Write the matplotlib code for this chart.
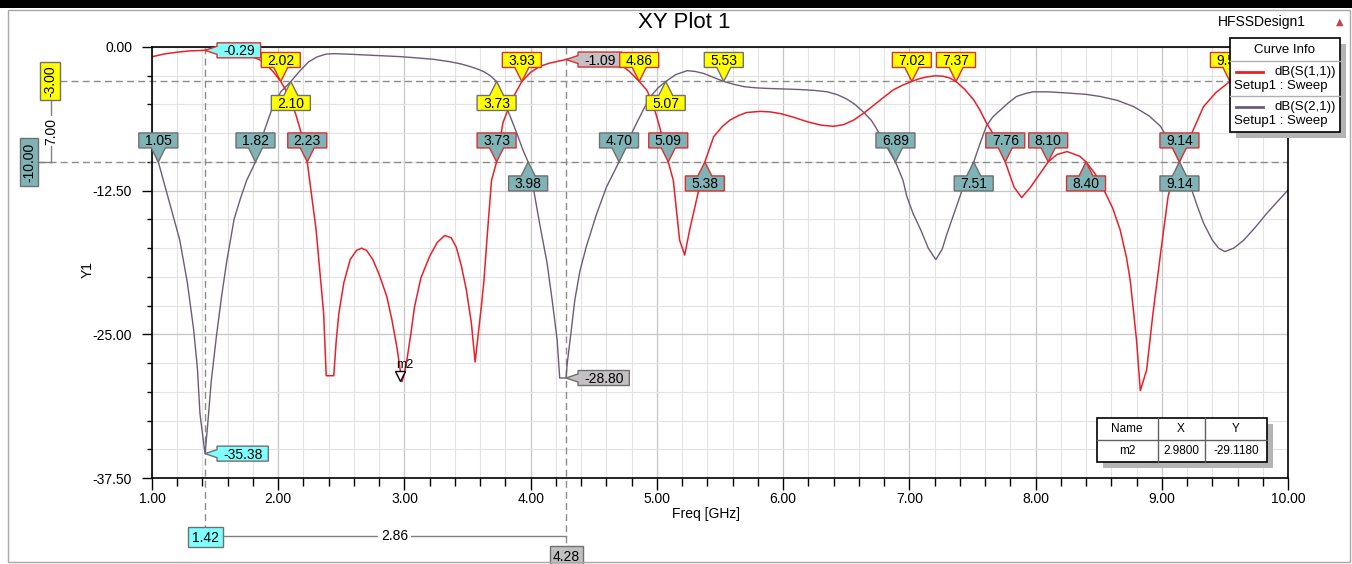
import numpy as np
import matplotlib
matplotlib.use('Agg')
import matplotlib.pyplot as plt
from matplotlib.patches import Polygon, Rectangle
from matplotlib.lines import Line2D
from matplotlib.transforms import IdentityTransform, offset_copy
from matplotlib.ticker import MultipleLocator, FormatStrFormatter

plt.rcParams['font.family'] = ['Liberation Sans', 'DejaVu Sans']

# ---- values ----
s11_freq = [1.00, 1.10, 1.20, 1.30, 1.42, 1.55, 1.64, 1.72, 1.80, 1.86, 1.91, 1.96, 2.02, 2.06, 2.10,
            2.14, 2.18, 2.23, 2.26, 2.30, 2.33, 2.36, 2.38, 2.44, 2.46, 2.48, 2.52, 2.57, 2.62, 2.66,
            2.70, 2.75, 2.80, 2.86, 2.90, 2.94, 2.98, 3.00, 3.02, 3.05, 3.08, 3.13, 3.20, 3.26, 3.32,
            3.37, 3.41, 3.45, 3.49, 3.53, 3.56, 3.59, 3.61, 3.63, 3.66, 3.69, 3.73, 3.78, 3.85, 3.93,
            4.00, 4.07, 4.15, 4.28, 4.40, 4.55, 4.65, 4.72, 4.78, 4.86, 4.92, 4.96, 5.00, 5.04, 5.09,
            5.13, 5.18, 5.22, 5.26, 5.32, 5.38, 5.45, 5.52, 5.58, 5.65, 5.71, 5.82, 5.90, 5.98, 6.08,
            6.19, 6.30, 6.40, 6.48, 6.56, 6.64, 6.72, 6.80, 6.87, 6.95, 7.02, 7.08, 7.14, 7.21, 7.27,
            7.32, 7.37, 7.44, 7.51, 7.56, 7.61, 7.65, 7.69, 7.76, 7.83, 7.89, 7.96, 8.03, 8.10, 8.17,
            8.25, 8.35, 8.40, 8.47, 8.54, 8.61, 8.67, 8.72, 8.75, 8.80, 8.83, 8.88, 8.93, 8.99, 9.05,
            9.09, 9.14, 9.20, 9.25, 9.33, 9.43, 9.54, 9.63, 9.75, 9.88, 10.00]
s11_db = [-0.85, -0.60, -0.45, -0.34, -0.29, -0.36, -0.50, -0.64, -0.86, -1.15, -1.57, -2.15, -3.00, -3.75, -4.70,
          -5.90, -7.40, -10.00, -12.50, -15.90, -19.50, -23.20, -28.60, -28.60, -25.50, -23.20, -20.50, -18.50, -17.70, -17.50,
          -17.70, -18.50, -19.80, -21.70, -23.70, -26.10, -29.12, -28.40, -27.20, -25.00, -22.60, -20.10, -18.20, -17.00, -16.40,
          -16.60, -17.40, -19.00, -21.10, -24.00, -27.40, -24.50, -22.50, -20.30, -15.80, -11.60, -10.00, -6.60, -4.60, -3.00,
          -2.20, -1.70, -1.40, -1.09, -0.95, -0.95, -1.20, -1.60, -2.10, -3.00, -3.75, -4.70, -6.10, -7.70, -10.00,
          -11.60, -16.80, -18.10, -15.90, -13.00, -10.00, -7.80, -6.90, -6.35, -5.95, -5.70, -5.60, -5.65, -5.80, -6.10,
          -6.50, -6.80, -6.90, -6.75, -6.35, -5.75, -5.05, -4.35, -3.75, -3.30, -3.00, -2.75, -2.60, -2.50, -2.55,
          -2.70, -3.00, -3.70, -4.60, -5.50, -6.60, -7.30, -8.10, -10.00, -12.20, -13.10, -12.20, -11.10, -10.00, -9.35,
          -9.10, -9.50, -10.00, -11.00, -12.40, -14.00, -15.90, -18.30, -20.30, -25.50, -29.90, -28.10, -23.20, -18.00, -13.00,
          -11.30, -10.00, -8.40, -7.20, -5.20, -3.95, -3.00, -2.40, -1.90, -1.60, -1.40]

s21_freq = [1.00, 1.05, 1.09, 1.15, 1.22, 1.28, 1.33, 1.36, 1.38, 1.42, 1.44, 1.47, 1.51, 1.55, 1.59,
            1.65, 1.70, 1.75, 1.82, 1.88, 1.95, 2.02, 2.10, 2.17, 2.24, 2.31, 2.38, 2.44, 2.55, 2.70,
            2.85, 2.97, 3.10, 3.23, 3.36, 3.45, 3.52, 3.58, 3.63, 3.68, 3.73, 3.78, 3.84, 3.89, 3.94,
            3.98, 4.02, 4.07, 4.13, 4.17, 4.21, 4.23, 4.28, 4.29, 4.32, 4.35, 4.39, 4.44, 4.52, 4.60,
            4.70, 4.77, 4.84, 4.90, 4.95, 5.01, 5.07, 5.15, 5.24, 5.30, 5.37, 5.45, 5.53, 5.61, 5.69,
            5.78, 5.87, 6.00, 6.13, 6.25, 6.35, 6.43, 6.50, 6.57, 6.64, 6.70, 6.74, 6.80, 6.89, 6.95,
            6.98, 7.03, 7.09, 7.15, 7.21, 7.26, 7.30, 7.36, 7.42, 7.51, 7.56, 7.61, 7.66, 7.72, 7.78,
            7.85, 7.92, 7.98, 8.10, 8.25, 8.40, 8.51, 8.65, 8.78, 8.90, 8.99, 9.07, 9.14, 9.23, 9.28,
            9.33, 9.40, 9.45, 9.50, 9.57, 9.65, 9.74, 9.83, 9.92, 10.00]
s21_db = [-8.80, -10.00, -11.60, -14.00, -16.80, -20.50, -24.60, -28.00, -31.90, -35.38, -33.00, -29.00, -25.20, -21.80, -18.80,
          -15.00, -13.20, -11.60, -10.00, -7.60, -5.40, -3.90, -3.00, -2.10, -1.30, -0.85, -0.62, -0.58, -0.62, -0.70,
          -0.78, -0.84, -0.95, -1.07, -1.28, -1.48, -1.70, -1.92, -2.15, -2.50, -3.00, -4.50, -6.10, -7.50, -9.00,
          -10.00, -12.20, -15.30, -18.80, -22.00, -25.50, -28.80, -28.80, -27.50, -24.80, -22.00, -19.50, -17.40, -14.60, -12.20,
          -10.00, -8.20, -6.60, -5.30, -4.30, -3.55, -3.00, -2.40, -2.06, -2.12, -2.30, -2.65, -3.00, -3.25, -3.45,
          -3.55, -3.60, -3.65, -3.70, -3.78, -3.90, -4.15, -4.50, -5.00, -5.70, -6.40, -7.10, -8.30, -10.00, -11.60,
          -13.00, -14.50, -15.90, -17.50, -18.50, -17.60, -16.20, -14.30, -12.40, -10.00, -8.40, -6.90, -6.10, -5.50, -4.90,
          -4.30, -4.05, -3.90, -3.90, -4.00, -4.12, -4.30, -4.65, -5.20, -6.00, -6.90, -8.40, -10.00, -12.20, -13.80,
          -15.30, -16.80, -17.50, -17.80, -17.50, -16.80, -15.70, -14.50, -13.40, -12.45]

lvl_3 = -3.0
lvl_10 = -10.0

# markers on the -3 dB line: tag above (pointer down) / below (pointer up)
c3_above = [2.02, 3.93, 4.86, 5.53, 7.02, 7.37, 9.54]
c3_above_trace = ['s11', 's11', 's11', 's21', 's11', 's11', 's11']
c3_below = [2.10, 3.73, 5.07]
c3_below_trace = ['s21', 's21', 's21']
# markers on the -10 dB line
c10_above = [1.05, 1.82, 2.23, 3.73, 4.70, 5.09, 6.89, 7.76, 8.10, 9.14]
c10_above_trace = ['s21', 's21', 's11', 's11', 's21', 's11', 's21', 's11', 's11', 's11']
c10_below = [3.98, 5.38, 7.51, 8.40, 9.14]
c10_below_trace = ['s21', 's11', 's21', 's11', 's21']

# delta x markers
dx_freq = [1.42, 4.28]
dx_s11 = [-0.29, -1.09]
dx_s21 = [-35.38, -28.80]

m2_freq = 2.98
m2_db = -29.118

W, H = 1352, 564
RED = '#e8202a'
PURP = '#6e5c74'
YEL = '#ffff00'
TEAL = '#80b3b6'
CYAN = '#80ffff'
GRAY = '#c4c0c4'
EDGE = {'s11': '#d83030', 's21': '#707070'}
IDT = IdentityTransform()

fig = plt.figure(figsize=(W / 100, H / 100), dpi=100)
fig.patch.set_facecolor('white')
ax = fig.add_axes([152 / W, 1 - 478 / H, (1288 - 152) / W, (478 - 47) / H])

ax.plot(s21_freq, s21_db, color=PURP, lw=1.0, zorder=2)
ax.plot(s11_freq, s11_db, color=RED, lw=1.1, zorder=2.1)

ax.set_xlim(1, 10)
ax.set_ylim(-37.5, 0)
ax.set_xticks(np.arange(1, 10.01, 1))
ax.set_yticks([0, -12.5, -25, -37.5])
ax.xaxis.set_minor_locator(MultipleLocator(0.2))
ax.yaxis.set_minor_locator(MultipleLocator(2.5))
ax.xaxis.set_major_formatter(FormatStrFormatter('%.2f'))
ax.yaxis.set_major_formatter(FormatStrFormatter('%.2f'))
ax.tick_params(axis='x', which='major', length=8.6, width=1, pad=1.5, labelsize=10)
ax.tick_params(axis='x', which='minor', length=5.5, width=1)
ax.tick_params(axis='y', which='major', length=7.2, width=1, pad=7.2, labelsize=10)
ax.tick_params(axis='y', which='minor', length=3.6, width=1)
ax.grid(which='major', color='#c6c6c6', lw=0.9)
ax.grid(which='minor', color='#e3e3e3', lw=0.8)
ax.set_axisbelow(True)
for sp in ax.spines.values():
    sp.set_color('black')
    sp.set_linewidth(1.2)

fig.text(706, H - 514, 'Freq [GHz]', transform=IDT, ha='center', va='center', fontsize=10)
fig.text(88, H - 270, 'Y1', transform=IDT, rotation=90, ha='center', va='center', fontsize=10)

inv = ax.transData.inverted()


def to_px(x, y):
    return ax.transData.transform((x, y))


def data_x(px):
    return inv.transform((px, 0))[0]


def data_y(py):
    return inv.transform((0, H - py))[1]


# level lines
ax.plot([data_x(60), 10], [lvl_3, lvl_3], ls=(0, (5, 3)), color='#8c8c8c', lw=1, clip_on=False, zorder=1.5)
ax.plot([data_x(38), 10], [lvl_10, lvl_10], ls=(0, (5, 3)), color='#8c8c8c', lw=1, clip_on=False, zorder=1.5)
# delta-x lines
ax.plot([dx_freq[0]] * 2, [0, data_y(527)], ls=(0, (5, 3)), color='#8c8c8c', lw=1, clip_on=False, zorder=1.5)
ax.plot([dx_freq[1]] * 2, [0, data_y(546)], ls=(0, (5, 3)), color='#8c8c8c', lw=1, clip_on=False, zorder=1.5)

CW = {'.': 3.9, '-': 4.6}


def text_w(s):
    return sum(CW.get(c, 7.7) for c in s)


def tag(x, y, label, face, edge, side):
    tx, ty = to_px(x, y)
    w = text_w(label) + 12
    h, gap, hb = 15, 14, 7
    l, r = tx - w / 2, tx + w / 2
    if side == 'down':
        b = ty + gap
        t = b + h
        verts = [(l, b), (tx - hb, b), (tx, ty), (tx + hb, b), (r, b), (r, t), (l, t)]
        cx, cy = tx, (b + t) / 2
    elif side == 'up':
        t = ty - gap
        b = t - h
        verts = [(l, t), (tx - hb, t), (tx, ty), (tx + hb, t), (r, t), (r, b), (l, b)]
        cx, cy = tx, (b + t) / 2
    else:
        l = tx + 12
        r = l + w
        b, t = ty - h / 2, ty + h / 2
        verts = [(tx, ty), (l, ty - 4), (l, b), (r, b), (r, t), (l, t), (l, ty + 4)]
        cx, cy = (l + r) / 2, ty
    fig.add_artist(Polygon(verts, closed=True, transform=IDT, fc=face, ec=edge, lw=1, zorder=5))
    fig.text(cx, cy - 5, label, transform=IDT, ha='center', va='baseline', fontsize=10, zorder=6)


# delta markers on the curves
tag(dx_freq[0], dx_s11[0], '%.2f' % dx_s11[0], CYAN, EDGE['s11'], 'left')
tag(dx_freq[0], dx_s21[0], '%.2f' % dx_s21[0], CYAN, EDGE['s21'], 'left')
tag(dx_freq[1], dx_s11[1], '%.2f' % dx_s11[1], GRAY, EDGE['s11'], 'left')
tag(dx_freq[1], dx_s21[1], '%.2f' % dx_s21[1], GRAY, EDGE['s21'], 'left')

for f, tr in zip(c3_above, c3_above_trace):
    tag(f, lvl_3, '%.2f' % f, YEL, EDGE[tr], 'down')
for f, tr in zip(c3_below, c3_below_trace):
    tag(f, lvl_3, '%.2f' % f, YEL, EDGE[tr], 'up')
for f, tr in zip(c10_above, c10_above_trace):
    tag(f, lvl_10, '%.2f' % f, TEAL, EDGE[tr], 'down')
for f, tr in zip(c10_below, c10_below_trace):
    tag(f, lvl_10, '%.2f' % f, TEAL, EDGE[tr], 'up')

# m2 marker
ax.plot([m2_freq], [m2_db], marker='v', ms=7, mfc='white', mec='black', mew=1,
        transform=offset_copy(ax.transData, fig=fig, x=-2, y=6, units='dots'), zorder=4)
mx, my = to_px(m2_freq, m2_db)
fig.text(mx + 3, my + 17, 'm2', transform=IDT, ha='center', va='center', fontsize=9, zorder=6)

# left level labels
_, y3 = to_px(1, lvl_3)
_, y10 = to_px(1, lvl_10)
fig.add_artist(Rectangle((40, y3 - 19), 20, 38, transform=IDT, fc=YEL, ec='#707070', lw=1, zorder=5))
fig.text(50, y3, '%.2f' % lvl_3, transform=IDT, rotation=90, ha='center', va='center', fontsize=10, zorder=6)
fig.add_artist(Rectangle((20, y10 - 24), 18, 48, transform=IDT, fc=TEAL, ec='#707070', lw=1, zorder=5))
fig.text(29, y10, '%.2f' % lvl_10, transform=IDT, rotation=90, ha='center', va='center', fontsize=10, zorder=6)
fig.add_artist(Line2D([51, 51], [y3 - 19, y10], transform=IDT, color='#808080', lw=1, zorder=4))
fig.add_artist(Line2D([38, 51], [y10, y10], transform=IDT, color='#808080', lw=1, zorder=4))
fig.text(51, (y3 - 19 + y10) / 2, '%.2f' % (lvl_3 - lvl_10), transform=IDT, rotation=90, ha='center', va='center',
         fontsize=10, zorder=6, bbox=dict(fc='white', ec='none', pad=1))

# bottom delta-x labels
x1, _ = to_px(dx_freq[0], 0)
x2, _ = to_px(dx_freq[1], 0)
fig.add_artist(Rectangle((x1 - 17, H - 547), 35, 20, transform=IDT, fc=CYAN, ec='#707070', lw=1, zorder=5))
fig.text(x1 + 0.5, H - 537 - 5, '%.2f' % dx_freq[0], transform=IDT, ha='center', va='baseline', fontsize=10, zorder=6)
fig.add_artist(Line2D([x1 + 18, x2], [H - 536, H - 536], transform=IDT, color='#808080', lw=1, zorder=4))
fig.text((x1 + 18 + x2) / 2, H - 536, '%.2f' % (dx_freq[1] - dx_freq[0]), transform=IDT, ha='center',
         va='center', fontsize=10, zorder=6, bbox=dict(fc='white', ec='none', pad=2))
fig.add_artist(Rectangle((x2 - 16, H - 565), 33, 19, transform=IDT, fc='#c0c0c0', ec='#707070', lw=1, zorder=5))
fig.text(x2, H - 556 - 5, '%.2f' % dx_freq[1], transform=IDT, ha='center', va='baseline', fontsize=10, zorder=6)

# marker table
fig.add_artist(Rectangle((1103, H - 468), 170, 44, transform=IDT, fc='#b4b4b4', ec='none', zorder=9))
fig.add_artist(Rectangle((1097, H - 462), 170, 44, transform=IDT, fc='white', ec='black', lw=1.2, zorder=10))
fig.add_artist(Line2D([1097, 1267], [H - 440, H - 440], transform=IDT, color='#606060', lw=1, zorder=10))
for cx in (1158, 1205):
    fig.add_artist(Line2D([cx, cx], [H - 462, H - 418], transform=IDT, color='#606060', lw=1, zorder=10))
for txt, cx, cy in [('Name', 1127, 429), ('X', 1181, 429), ('Y', 1236, 429),
                    ('m2', 1127, 451), ('%.4f' % m2_freq, 1181, 451), ('%.4f' % m2_db, 1236, 451)]:
    fig.text(cx, H - cy, txt, transform=IDT, ha='center', va='center', fontsize=8.5, zorder=11)

# legend
fig.add_artist(Rectangle((1236, H - 138), 110, 94, transform=IDT, fc='#b4b4b4', ec='none', zorder=12))
fig.add_artist(Rectangle((1230, H - 132), 110, 94, transform=IDT, fc='white', ec='black', lw=1.2, zorder=13))
fig.text(1285, H - 50, 'Curve Info', transform=IDT, ha='center', va='center', fontsize=9.5, zorder=14)
for sy in (61, 96):
    fig.add_artist(Line2D([1230, 1340], [H - sy, H - sy], transform=IDT, color='#b0b0b0', lw=1, zorder=14))
for col, name, ly in [(RED, 'dB(S(1,1))', 72), (PURP, 'dB(S(2,1))', 107)]:
    fig.add_artist(Line2D([1236, 1263], [H - ly, H - ly], transform=IDT, color=col, lw=2, zorder=14))
    fig.text(1336, H - ly, name, transform=IDT, ha='right', va='center', fontsize=9.5, zorder=14)
    fig.text(1234, H - ly - 14, 'Setup1 : Sweep', transform=IDT, ha='left', va='center', fontsize=9.5, zorder=14)

# header and window frame
fig.text(684, H - 23, 'XY Plot 1', transform=IDT, ha='center', va='center', fontsize=16)
fig.text(1262, H - 22, 'HFSSDesign1', transform=IDT, ha='center', va='center', fontsize=10)
fig.text(1340, H - 22, '\u25b2', transform=IDT, ha='center', va='center', fontsize=7, color='#c84040',
         family='DejaVu Sans')
fig.add_artist(Rectangle((0, H - 8), W, 8, transform=IDT, fc='black', ec='none', zorder=20))
fig.add_artist(Rectangle((8, 2), W - 10, H - 12, transform=IDT, fc='none', ec='#a8a8a8', lw=1, zorder=20))

fig.savefig('out.png', dpi=100)
